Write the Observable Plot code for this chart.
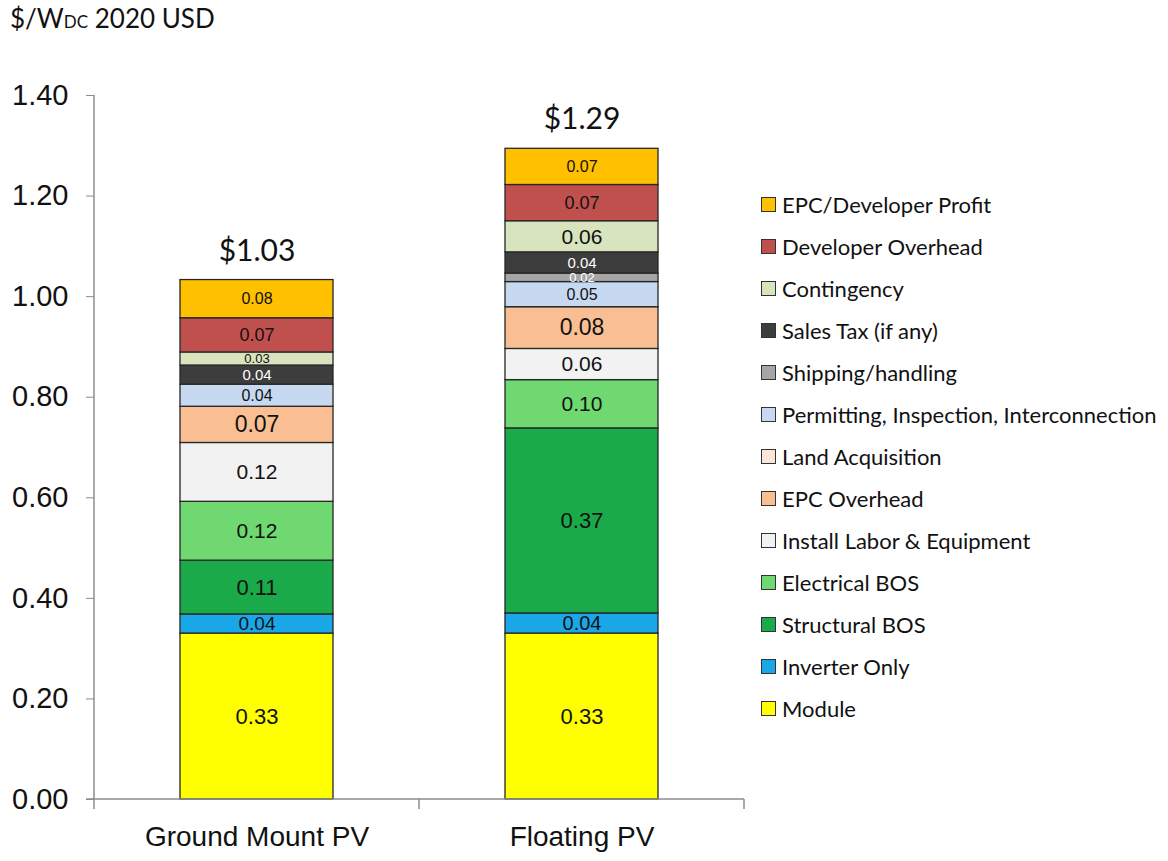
<!DOCTYPE html>
<html><head><meta charset="utf-8">
<script src="https://cdn.jsdelivr.net/npm/d3@7"></script>
<script src="https://cdn.jsdelivr.net/npm/@observablehq/plot@0.6"></script>
<style>
body{margin:0;background:#fff;}
#wrap{position:relative;width:1168px;height:861px;overflow:hidden;background:#fff;}
#title{position:absolute;left:10px;top:2px;font:26px Lato, "Noto Sans", sans-serif;color:#111;white-space:nowrap;}
#chart{position:absolute;left:0;top:50px;}
#legend{position:absolute;left:761px;top:0;font:22px Lato, "Noto Sans", sans-serif;color:#111;}
.row{position:absolute;left:0;display:flex;align-items:center;white-space:nowrap;height:26px;}
.sw{width:13px;height:13px;border:1px solid #333;margin-right:6px;flex:none;}
</style></head><body>
<div id="wrap">
  <div id="title">$/W<span style="font-size:17px">DC</span> 2020 USD</div>
  <div id="chart"></div>
  <div id="legend"></div>
</div>
<script>
const categories = ["Ground Mount PV", "Floating PV"];
const series = [
  "Module", "Inverter Only", "Structural BOS", "Electrical BOS",
  "Install Labor & Equipment", "EPC Overhead", "Land Acquisition",
  "Permitting, Inspection, Interconnection", "Shipping/handling",
  "Sales Tax (if any)", "Contingency", "Developer Overhead", "EPC/Developer Profit"
];
const groundValues   = [0.330, 0.038, 0.107, 0.117, 0.117, 0.072, 0, 0.044, 0,     0.038, 0.026, 0.068, 0.076];
const floatingValues = [0.330, 0.040, 0.368, 0.096, 0.062, 0.083, 0, 0.050, 0.017, 0.042, 0.062, 0.072, 0.072];
const yTicks = [0, 0.2, 0.4, 0.6, 0.8, 1.0, 1.2, 1.4];

// styles
const colors = ["#ffff00", "#1aa7e8", "#1aaa4a", "#6fd870", "#f2f2f2", "#f9bf92", "#fce6d8",
                "#c6d9f1", "#a6a6a6", "#3d3d3d", "#d7e4bd", "#c0504d", "#ffc000"];
const baseSize = {"Module":22, "Inverter Only":20, "Structural BOS":22, "Electrical BOS":21,
  "Install Labor & Equipment":21, "EPC Overhead":23, "Land Acquisition":18,
  "Permitting, Inspection, Interconnection":16, "Shipping/handling":16, "Sales Tax (if any)":15,
  "Contingency":21, "Developer Overhead":18, "EPC/Developer Profit":16};
const whiteText = new Set(["Sales Tax (if any)", "Shipping/handling"]);
const labelFont = '"Liberation Sans", Arial, sans-serif';

const valuesByCat = [groundValues, floatingValues];
const data = [];
categories.forEach((c, ci) => series.forEach((s, si) => {
  const v = valuesByCat[ci][si];
  if (v > 0) data.push({category: c, series: s, value: v});
}));
const totals = categories.map((c, ci) => ({category: c, total: d3.sum(valuesByCat[ci])}));

const H = 811, MT = 45, MB = 62;
const pxPerUnit = (H - MT - MB) / 1.4;
const fmt = d3.format(".2f");
const size = d => Math.min(baseSize[d.series], Math.max(13, d.value * pxPerUnit));

function axisLines(index, scales, values, dims) {
  const g = d3.create("svg:g").attr("stroke", "#8c8c8c").attr("stroke-width", 1.5).attr("fill", "none");
  const y0 = scales.y(0), yTop = scales.y(1.4);
  const left = dims.marginLeft, right = dims.width - dims.marginRight;
  g.append("line").attr("x1", left).attr("x2", left).attr("y1", yTop).attr("y2", y0);
  g.append("line").attr("x1", left - 8).attr("x2", right).attr("y1", y0).attr("y2", y0);
  const xs = categories.map(c => scales.x(c)).concat([right]);
  xs.forEach(x => g.append("line").attr("x1", x).attr("x2", x).attr("y1", y0).attr("y2", y0 + 10));
  return g.node();
}

const stackText = (dark) => Plot.text(data, Plot.stackY({x: "category", y: "value", z: "series",
  order: series, text: d => (whiteText.has(d.series) !== dark) ? fmt(d.value) : "",
  fill: dark ? "#111" : "#fff", fontSize: size, fontFamily: labelFont}));

const chart = Plot.plot({
  width: 1168, height: H,
  marginLeft: 94, marginRight: 424, marginTop: MT, marginBottom: MB,
  x: {domain: categories, padding: 0, axis: null},
  y: {domain: [0, 1.4], axis: null},
  color: {domain: series, range: colors},
  style: {background: "transparent", overflow: "visible"},
  marks: [
    Plot.barY(data, Plot.stackY({x: "category", y: "value", fill: "series", order: series,
      stroke: "#262626", strokeWidth: 1.3, insetLeft: 86, insetRight: 86})),
    stackText(true),
    stackText(false),
    Plot.text(totals, {x: "category", y: "total", text: d => "$" + fmt(d.total), dy: -29,
      fontSize: 30, fontFamily: 'Lato, "Noto Sans", sans-serif', fill: "#111"}),
    Plot.axisY({ticks: yTicks, tickFormat: ".2f", tickSize: 8, tickPadding: 18, fontSize: 29,
      stroke: "#8c8c8c", fill: "#111", fontFamily: '"Liberation Sans", Arial, sans-serif', label: null}),
    Plot.axisX({tickSize: 0, tickPadding: 27, fontSize: 28, fill: "#111",
      fontFamily: labelFont, label: null}),
    axisLines
  ]
});
document.getElementById("chart").appendChild(chart);

// legend (top to bottom: reverse stack order)
const legend = d3.select("#legend");
series.slice().reverse().forEach((s, i) => {
  const idx = series.indexOf(s);
  const row = legend.append("div").attr("class", "row").style("top", (204 + i * 42.08 - 13) + "px");
  row.append("div").attr("class", "sw").style("background", colors[idx]);
  row.append("span").text(s);
});
</script>
</body></html>
